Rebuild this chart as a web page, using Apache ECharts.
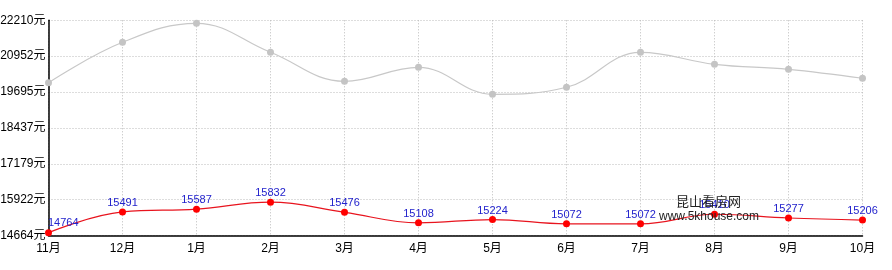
<!DOCTYPE html>
<html><head><meta charset="utf-8">
<script src="https://cdn.jsdelivr.net/npm/echarts@6/dist/echarts.min.js"></script>
<style>html,body{margin:0;padding:0;background:#fff}#c{width:892px;height:270px}</style>
</head><body><div id="c"></div>
<script>
var categories = ['11月','12月','1月','2月','3月','4月','5月','6月','7月','8月','9月','10月'];
var greyValues = [20022,21439,22105,21088,20071,20562,19616,19861,21088,20667,20492,20177];
var redValues = [14764,15491,15587,15832,15476,15108,15224,15072,15072,15410,15277,15206];
var yMin = 14664, yMax = 22210, ySteps = 6;
var watermark = ['昆山看房网', 'www.5khouse.com'];

var chart = echarts.init(document.getElementById('c'));
var font = 'Arial, "Liberation Sans", "Noto Sans CJK SC", sans-serif';
var redData = redValues.map(function(v,i){
  if(i===0) return {value:v,label:{position:'right',offset:[-4,-10]}};
  return v;
});
chart.setOption({
  animation:false,
  grid:{left:48.5,right:29.5,top:20.3,bottom:34.5,containLabel:false,outerBoundsMode:'none'},
  xAxis:{type:'category',data:categories,boundaryGap:false,
    axisLine:{lineStyle:{color:'#000',width:1.5}},
    axisTick:{show:false},
    axisLabel:{color:'#000',fontSize:12,fontFamily:font,margin:7},
    splitLine:{show:true,lineStyle:{color:'#bbb',type:[1,2]}}},
  yAxis:[{type:'value',min:yMin,max:yMax,
    axisLine:{show:true,lineStyle:{color:'#000',width:1.5}},
    axisTick:{show:false},axisLabel:{show:false},splitLine:{show:false}},
   {type:'value',min:0,max:ySteps,interval:1,position:'left',
    axisLine:{show:false},axisTick:{show:false},
    axisLabel:{color:'#000',fontSize:12,fontFamily:font,margin:3,
      formatter:function(v){return Math.round(yMin+v*(yMax-yMin)/ySteps)+'元';}},
    splitLine:{show:true,lineStyle:{color:'#bbb',type:[1,2]}}}],
  graphic:[
    {type:'text',left:676,top:195,style:{text:watermark[0],fill:'#222',font:'13px "Noto Sans CJK SC", sans-serif'},z:100},
    {type:'text',left:659,top:211,style:{text:watermark[1],fill:'#222',font:'12px Arial, "Liberation Sans", sans-serif'},z:100}
  ],
  series:[
    {type:'line',data:greyValues,yAxisIndex:0,smooth:0.4,symbol:'circle',symbolSize:7,
     lineStyle:{color:'#c8c8c8',width:1.2},itemStyle:{color:'#c4c4c4'}},
    {type:'line',data:redData,yAxisIndex:0,smooth:0.4,symbol:'circle',symbolSize:7,
     lineStyle:{color:'#e8141e',width:1.2},itemStyle:{color:'#ff0000'},
     label:{show:true,position:'top',distance:0,color:'#2222cc',fontSize:11,fontFamily:font}}
  ]
});
</script></body></html>
